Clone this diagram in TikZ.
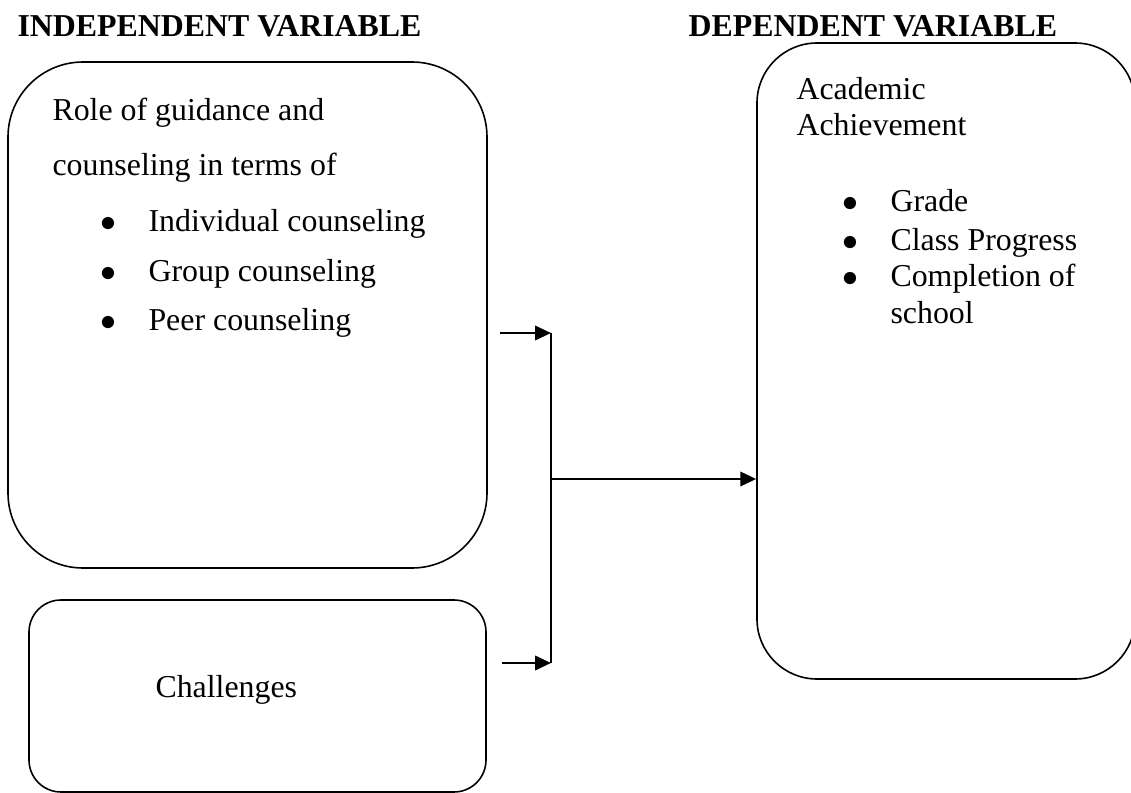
\documentclass[tikz,border=0pt]{standalone}
\usepackage{fontspec}
\setmainfont{Liberation Serif}
\usetikzlibrary{arrows.meta}
\tikzset{>={Triangle[length=6pt,width=5.4pt]}}

\newlength\px
\setlength\px{0.3766pt}
\newcommand\bul[1]{\makebox[48\px][l]{$\bullet$}#1}

\begin{document}
\begin{tikzpicture}[x=0.3766pt, y=-0.3766pt]

%% styles
\tikzstyle{blob}=[draw, line width=0.6pt, inner sep=0pt]

\tikzstyle{txt}=[anchor=base west, inner sep=0pt, font=\fontsize{12pt}{14pt}\selectfont]

\tikzstyle{head}=[txt, font=\fontsize{12pt}{14pt}\selectfont\bfseries]

\tikzstyle{link}=[draw, line width=1pt]

\useasboundingbox (0,0) rectangle (1131,793);

%% boxes
\node(Role)[style = blob, rounded corners=75\px, minimum width=479\px, minimum height=506\px] at (247.5, 315) {};

\node(Chal)[style = blob, rounded corners=32\px, minimum width=457\px, minimum height=192\px] at (257.5, 696) {};

\node(Ach)[style = blob, rounded corners=60\px, minimum width=378\px, minimum height=636\px] at (946, 361) {};

%% headings
\node(H1)[head] at (17, 37) {INDEPENDENT VARIABLE};
\node(H2)[head] at (688, 37) {DEPENDENT VARIABLE};

%% text
\node(R1)[txt] at (52, 121) {Role of guidance and};
\node(R2)[txt] at (52, 176) {counseling in terms of};
\node(R3)[txt] at (100, 232) {\bul{Individual counseling}};
\node(R4)[txt] at (100, 281) {\bul{Group counseling}};
\node(R5)[txt] at (100, 330) {\bul{Peer counseling}};

\node(C1)[txt] at (155, 697) {Challenges};

\node(A1)[txt] at (796, 99) {Academic};
\node(A2)[txt] at (796, 135) {Achievement};
\node(A3)[txt] at (842, 212) {\bul{Grade}};
\node(A4)[txt] at (842, 250) {\bul{Class Progress}};
\node(A5)[txt] at (842, 287) {\bul{Completion of}};
\node(A6)[txt] at (890, 323) {school};

%% arrows
\coordinate(J1) at (551, 333);
\coordinate(J2) at (551, 663);
\coordinate(JM) at (551, 479);

\path [link, ->, shorten <=12\px] (Role.east |- J1) -- (J1);

\path [link, ->, shorten <=15\px] (Chal.east |- J2) -- (J2);

\path [draw, line width=0.6pt] (J1) -- (J2);

\path [link, ->] (JM) -- (JM -| Ach.west);

\end{tikzpicture}
\end{document}
